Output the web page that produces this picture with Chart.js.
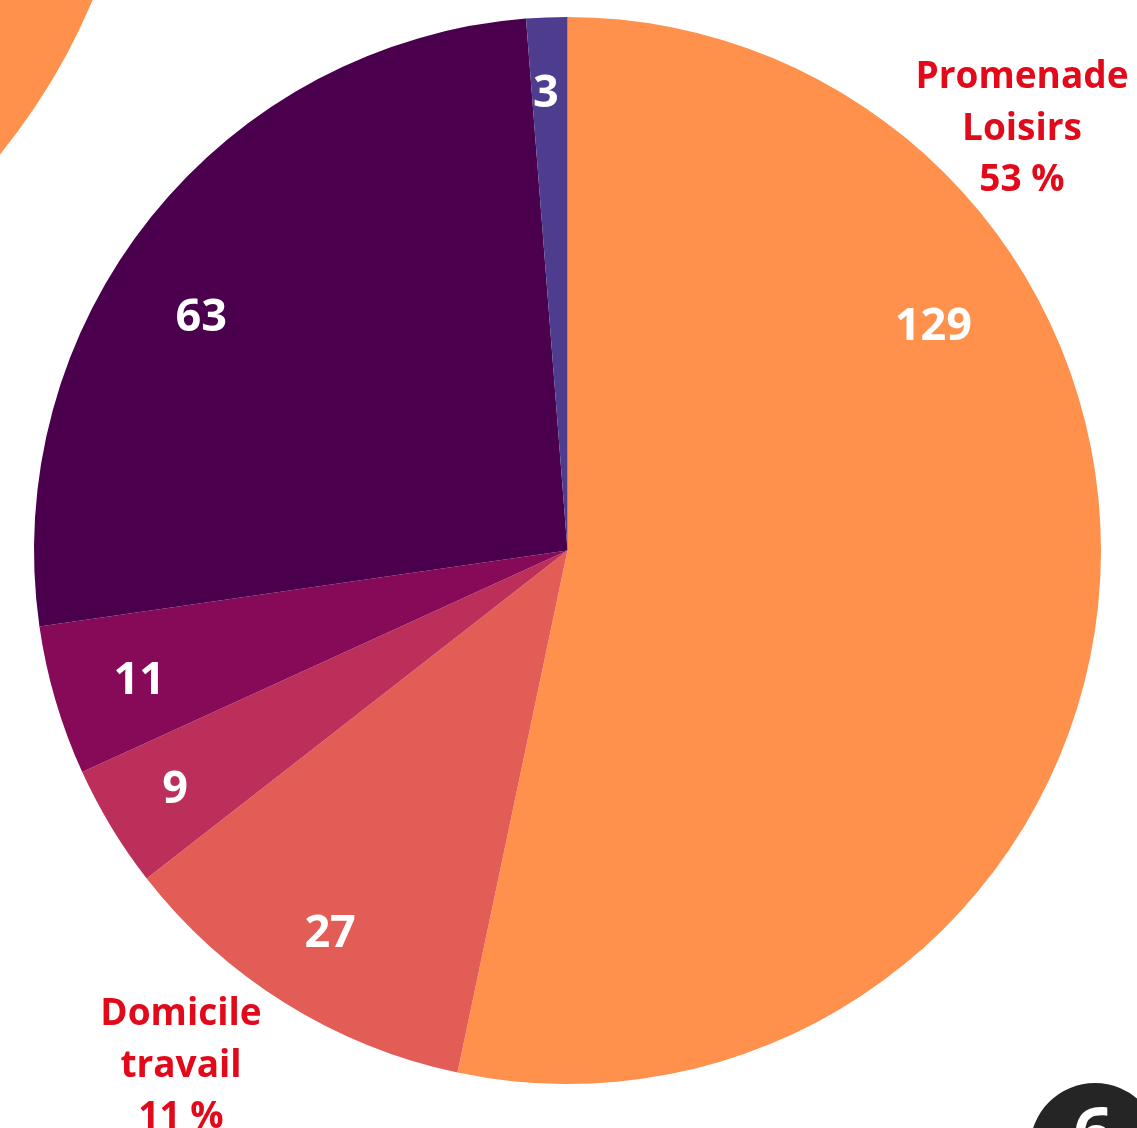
<!DOCTYPE html>
<html>
<head>
<meta charset="utf-8">
<style>
  html, body { margin: 0; padding: 0; background: #ffffff; }
  #wrap { position: relative; width: 1137px; height: 1128px; overflow: hidden; }
  canvas { display: block; }
</style>
<script src="https://cdn.jsdelivr.net/npm/chart.js@4/dist/chart.umd.min.js"></script>
</head>
<body>
<div id="wrap"><canvas id="c" width="1137" height="1128"></canvas></div>
<script>
// ---- data ----
const categories = ["Promenade Loisirs", "Domicile travail", "Catégorie 3", "Catégorie 4", "Catégorie 5", "Catégorie 6"];
const values = [129, 27, 9, 11, 63, 3];
const colors = ["#FF914D", "#E35D57", "#BB2F5A", "#870A58", "#4B004E", "#4E3C8E"];
// callout labels (index of slice, text lines)
const calloutIndex = [0, 1];
const calloutNames = [["Promenade", "Loisirs"], ["Domicile", "travail"]];

// ---- presentation (not data) ----
// value label placement: angle (deg, clockwise from top) and radial fraction
const valueLabelAngle = [58.4, 211.9, 238.8, 253.3, 302.6, 357.3];
const valueLabelRadius = [0.805, 0.842, 0.86, 0.838, 0.815, 0.86];
const calloutPos = [[1022, 88], [181, 1025]];

const total = values.reduce((a, b) => a + b, 0);

const decoPlugin = {
  id: 'deco',
  beforeDraw(chart) {
    const ctx = chart.ctx;
    ctx.save();
    ctx.fillStyle = '#FF914D';
    ctx.beginPath();
    ctx.arc(-498, -249, 641, 0, Math.PI * 2);
    ctx.fill();
    ctx.restore();
  },
  afterDraw(chart) {
    const ctx = chart.ctx;
    ctx.save();
    ctx.fillStyle = '#252525';
    ctx.beginPath();
    ctx.arc(1095, 1148, 65, 0, Math.PI * 2);
    ctx.fill();
    ctx.fillStyle = '#ffffff';
    ctx.font = 'bold 70px "Open Sans"';
    ctx.textAlign = 'center';
    ctx.textBaseline = 'alphabetic';
    ctx.fillText('6', 1093, 1158);
    ctx.restore();
  }
};

const labelPlugin = {
  id: 'labels',
  afterDatasetsDraw(chart) {
    const ctx = chart.ctx;
    const meta = chart.getDatasetMeta(0);
    ctx.save();
    ctx.textAlign = 'center';
    ctx.textBaseline = 'middle';
    ctx.fillStyle = '#ffffff';
    ctx.font = 'bold 45px "Open Sans"';
    meta.data.forEach((arc, i) => {
      const a = valueLabelAngle[i] * Math.PI / 180;
      const r = arc.outerRadius * valueLabelRadius[i];
      const x = arc.x + Math.sin(a) * r;
      const y = arc.y - Math.cos(a) * r;
      ctx.fillText(String(values[i]), x, y + 2);
    });
    // callouts
    ctx.fillStyle = '#E2091A';
    ctx.font = 'bold 37px "Open Sans"';
    ctx.textBaseline = 'alphabetic';
    calloutIndex.forEach((idx, k) => {
      const lines = calloutNames[k].concat([Math.round(values[idx] / total * 100) + ' %']);
      const [cx, cy] = calloutPos[k];
      lines.forEach((t, j) => ctx.fillText(t, cx, cy + j * 51.5));
    });
    ctx.restore();
  }
};

new Chart(document.getElementById('c'), {
  type: 'pie',
  data: {
    labels: categories,
    datasets: [{
      data: values,
      backgroundColor: colors,
      borderWidth: 0
    }]
  },
  options: {
    responsive: false,
    animation: false,
    layout: { padding: { left: 34, right: 36, top: 17, bottom: 44 } },
    plugins: {
      legend: { display: false },
      tooltip: { enabled: false }
    }
  },
  plugins: [decoPlugin, labelPlugin]
});
</script>
</body>
</html>
